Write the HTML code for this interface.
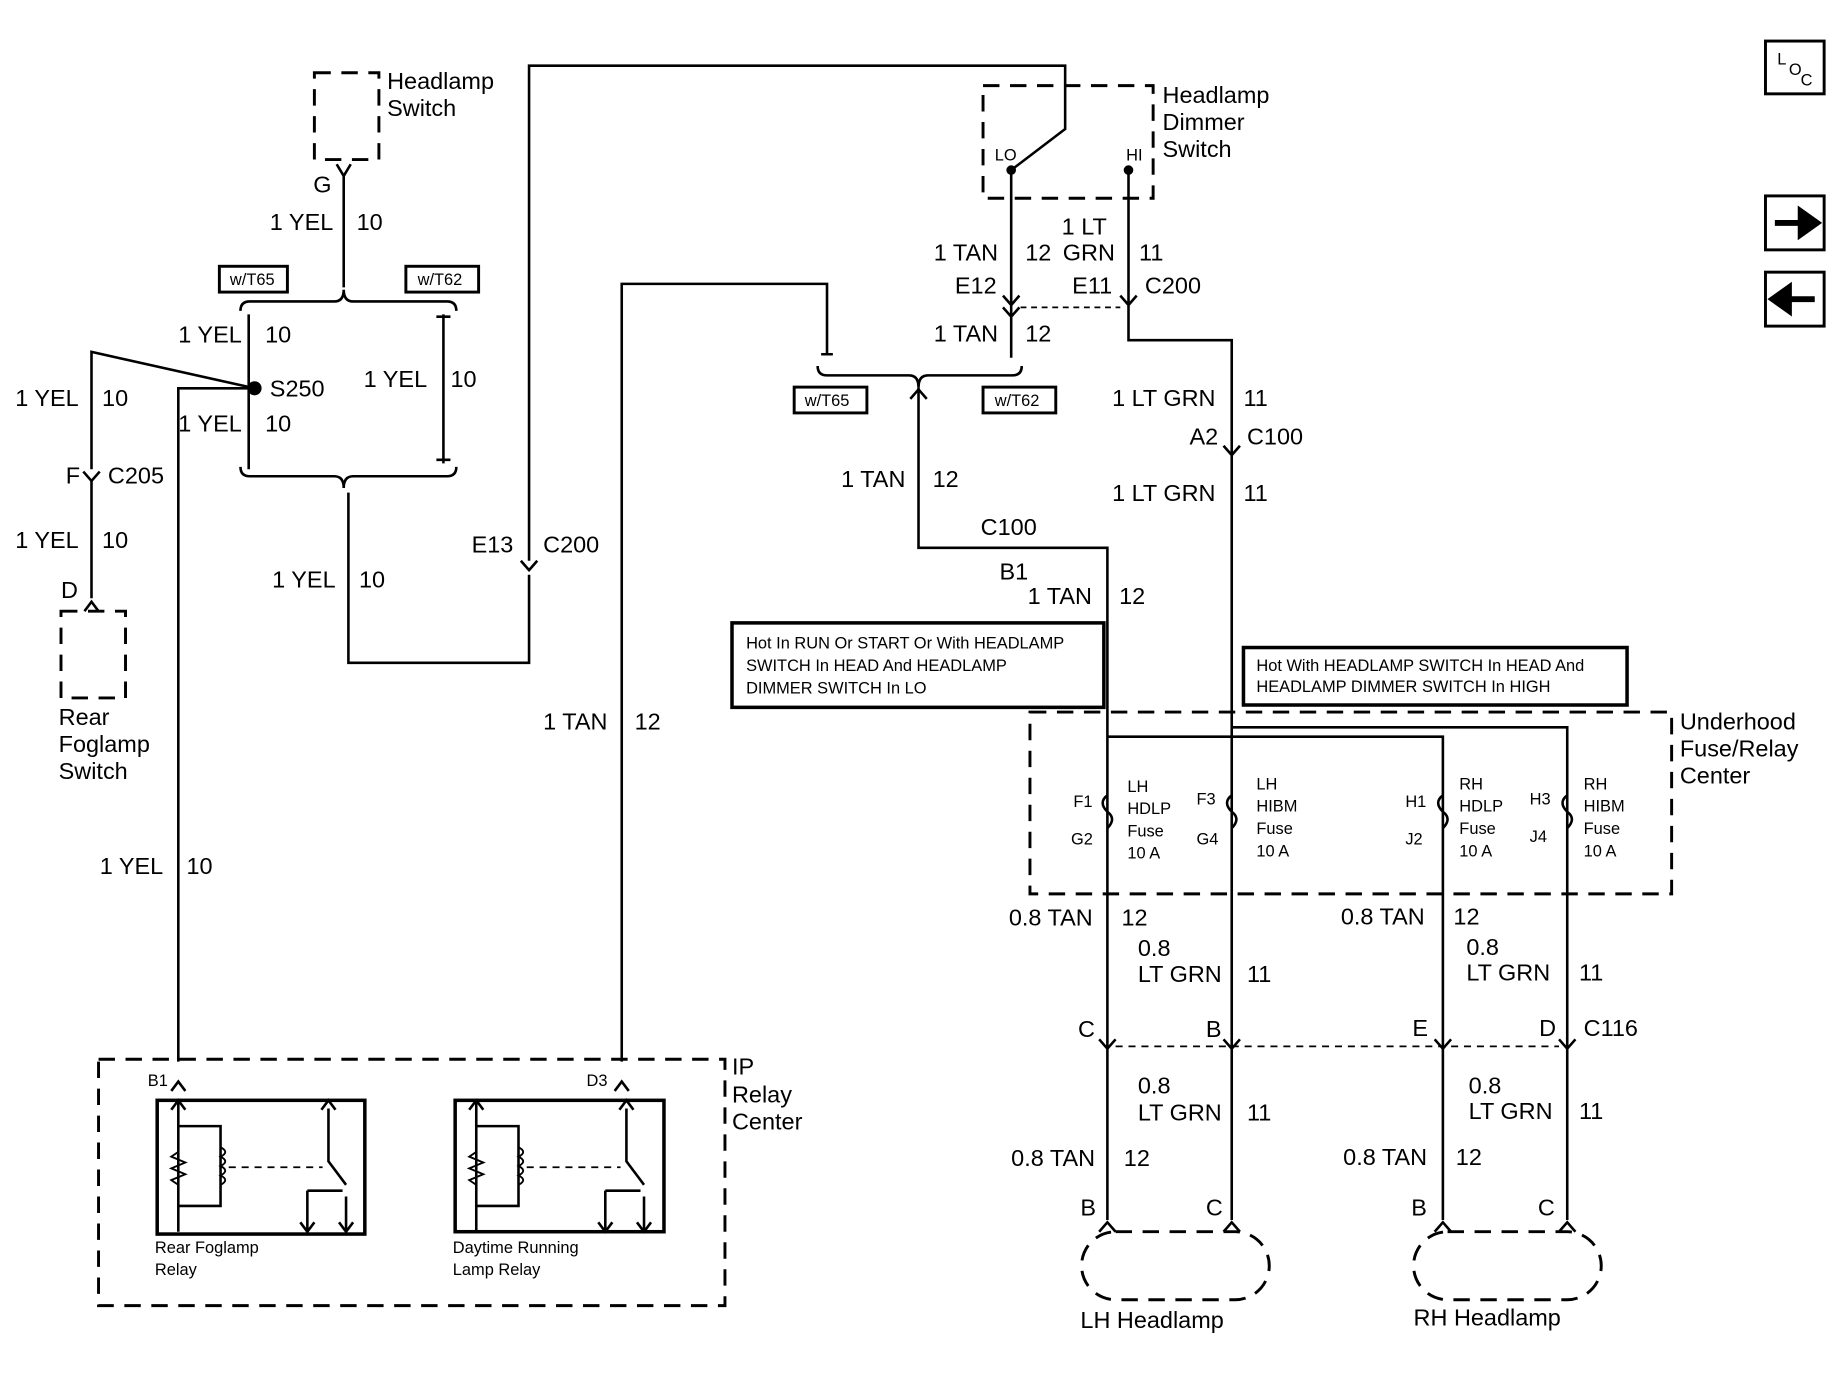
<!DOCTYPE html>
<html><head><meta charset="utf-8"><style>
html,body{margin:0;padding:0;background:#fff;}
svg{display:block;}
text{font-family:"Liberation Sans",sans-serif;fill:#000;}
.t{font-size:20px;}
.s{font-size:14px;}
</style></head><body>
<svg width="1830" height="1376" viewBox="0 0 1560 1173" preserveAspectRatio="none" xmlns="http://www.w3.org/2000/svg">
<g fill="none" stroke="#000" stroke-width="2.2">
<g stroke-dasharray="14,9" stroke-width="2.5">
<rect x="268" y="62" width="55" height="74"/>
<rect x="52" y="521" width="55" height="74"/>
<rect x="838" y="73" width="145" height="96"/>
<rect x="878" y="607" width="547" height="155"/>
<rect x="84" y="903" width="534" height="210"/>
<rect x="922" y="1050" width="160" height="58" rx="29"/>
<rect x="1205" y="1050" width="160" height="58" rx="29"/>
</g>
<path d="M293 150V245"/>
<path d="M287 140l6 10 6-10"/>
<path d="M205 265q0-8 8-8h72q8 0 8-10q0 10 8 10h80q8 0 8 8"/>
<path d="M212 268V400M378 268V395M372 270h12M372 392h12"/>
<path d="M205 398q0 8 8 8h72q8 0 8 10q0-10 8-10h80q8 0 8-8"/>
<path d="M297 420V565H451V490"/>
<path d="M444 478l7 8 7-8"/>
<path d="M451 478V56H908V110L862 145"/>
<path d="M217 331L78 300V400M217 331H152V905"/>
<path d="M71 402l7 8 7-8"/>
<path d="M78 410V510M72 521l6-8 6 8"/>
<path d="M530 905V242H705V302M700 302h10"/>
<path d="M697 312q0 8 8 8h70q8 0 8 10q0-10 8-10h72q8 0 8-8"/>
<path d="M783 330V467H944V1040"/>
<path d="M776 340l7-8 7 8"/>
<circle cx="862" cy="145" r="3" fill="#000"/>
<circle cx="962" cy="145" r="3" fill="#000"/>
<path d="M862 145V305M855 262l7 8 7-8M855 252l7 8 7-8"/>
<path d="M962 145V290H1050V1040M955 252l7 8 7-8M1043 380l7 8 7-8"/>
<path d="M870 262H955" stroke-dasharray="5,4" stroke-width="1.5"/>
<path d="M944 628H1230V1040M1050 620H1336V1040"/>
<path d="M951 892H1329" stroke-dasharray="6,5" stroke-width="1.5"/>
<path d="M937 886l7 8 7-8M1043 886l7 8 7-8M1223 886l7 8 7-8M1329 886l7 8 7-8"/>
<path d="M937 1050l7-8 7 8M1043 1050l7-8 7 8M1223 1050l7-8 7 8M1329 1050l7-8 7 8"/>
<path d="M146 930l6-8 6 8M524 930l6-8 6 8"/>
<rect x="134" y="938" width="177" height="114" stroke-width="3"/>
<rect x="388" y="938" width="178" height="112" stroke-width="3"/>
<!-- relay 1 -->
<path d="M152 938V1050M152 960H188V1028H152M146 946l6-8 6 8"/>
<path d="M152 982l-6 4 12 5-12 5 12 5-12 5 6 4" stroke-width="1.6"/>
<path d="M188 978q8 4 0 8q8 4 0 8q8 4 0 8q8 4 0 8" stroke-width="1.6"/>
<path d="M280 945V990L295 1010M262 1015V1050M295 1020V1050M262 1015h30M274 946l6-8 6 8M256 1042l6 8 6-8M289 1042l6 8 6-8"/>
<!-- relay 2 -->
<path d="M406 938V1050M406 960H442V1028H406M400 946l6-8 6 8"/>
<path d="M406 982l-6 4 12 5-12 5 12 5-12 5 6 4" stroke-width="1.6"/>
<path d="M442 978q8 4 0 8q8 4 0 8q8 4 0 8q8 4 0 8" stroke-width="1.6"/>
<path d="M534 945V990L549 1010M516 1015V1050M549 1020V1050M516 1015h30M528 946l6-8 6 8M510 1042l6 8 6-8M543 1042l6 8 6-8"/>
<path d="M195 995H275M449 995H529" stroke-dasharray="6,5" stroke-width="1.5"/>
<rect x="624" y="531" width="317" height="72" stroke-width="3"/>
<rect x="1060" y="552" width="327" height="49" stroke-width="3"/>
<rect x="187" y="227" width="58" height="22" stroke-width="2.5"/>
<rect x="346" y="227" width="62" height="22" stroke-width="2.5"/>
<rect x="677" y="330" width="62" height="22" stroke-width="2.5"/>
<rect x="838" y="330" width="62" height="22" stroke-width="2.5"/>
<rect x="1505" y="35" width="50" height="45" stroke-width="2.5"/>
<rect x="1505" y="167" width="50" height="46" stroke-width="2.5"/>
<rect x="1505" y="232" width="50" height="46" stroke-width="2.5"/>
<path d="M944 678q-8 6 0 14q8 6 0 14M1050 678q-8 6 0 14q8 6 0 14M1230 678q-8 6 0 14q8 6 0 14M1336 678q-8 6 0 14q8 6 0 14"/>
</g>
<circle cx="217" cy="331" r="6"/>
<path d="M1513 190h22v-10l14 10-14 10v-10" fill="#000" stroke="#000" stroke-width="5"/>
<path d="M1547 255h-22v-10l-14 10 14 10v-10" fill="#000" stroke="#000" stroke-width="5"/>
<text class="s" x="1515" y="55">L</text><text class="s" x="1525" y="64">O</text><text class="s" x="1535" y="73">C</text>
<g class="t">
<text x="330" y="76">Headlamp</text><text x="330" y="99">Switch</text>
<text x="267" y="164">G</text>
<text x="230" y="196">1 YEL</text><text x="304" y="196">10</text>
<text x="152" y="292">1 YEL</text><text x="226" y="292">10</text>
<text x="230" y="338">S250</text>
<text x="310" y="330">1 YEL</text><text x="384" y="330">10</text>
<text x="152" y="368">1 YEL</text><text x="226" y="368">10</text>
<text x="13" y="346">1 YEL</text><text x="87" y="346">10</text>
<text x="56" y="412">F</text><text x="92" y="412">C205</text>
<text x="13" y="467">1 YEL</text><text x="87" y="467">10</text>
<text x="52" y="510">D</text>
<text x="50" y="618">Rear</text><text x="50" y="641">Foglamp</text><text x="50" y="664">Switch</text>
<text x="232" y="501">1 YEL</text><text x="306" y="501">10</text>
<text x="402" y="471">E13</text><text x="463" y="471">C200</text>
<text x="85" y="745">1 YEL</text><text x="159" y="745">10</text>
<text x="463" y="622">1 TAN</text><text x="541" y="622">12</text>
<text x="991" y="88">Headlamp</text><text x="991" y="111">Dimmer</text><text x="991" y="134">Switch</text>
<text x="905" y="200">1 LT</text>
<text x="796" y="222">1 TAN</text><text x="874" y="222">12</text><text x="906" y="222">GRN</text><text x="971" y="222">11</text>
<text x="814" y="250">E12</text><text x="914" y="250">E11</text><text x="976" y="250">C200</text>
<text x="796" y="291">1 TAN</text><text x="874" y="291">12</text>
<text x="948" y="346">1 LT GRN</text><text x="1060" y="346">11</text>
<text x="1014" y="379">A2</text><text x="1063" y="379">C100</text>
<text x="948" y="427">1 LT GRN</text><text x="1060" y="427">11</text>
<text x="717" y="415">1 TAN</text><text x="795" y="415">12</text>
<text x="836" y="456">C100</text><text x="852" y="494">B1</text>
<text x="876" y="515">1 TAN</text><text x="954" y="515">12</text>
<text x="1432" y="622">Underhood</text><text x="1432" y="645">Fuse/Relay</text><text x="1432" y="668">Center</text>
<text x="860" y="789">0.8 TAN</text><text x="956" y="789">12</text>
<text x="1143" y="788">0.8 TAN</text><text x="1239" y="788">12</text>
<text x="970" y="815">0.8</text><text x="970" y="837">LT GRN</text><text x="1063" y="837">11</text>
<text x="1250" y="814">0.8</text><text x="1250" y="836">LT GRN</text><text x="1346" y="836">11</text>
<text x="919" y="884">C</text><text x="1028" y="884">B</text><text x="1204" y="883">E</text><text x="1312" y="883">D</text><text x="1350" y="883">C116</text>
<text x="970" y="932">0.8</text><text x="970" y="955">LT GRN</text><text x="1063" y="955">11</text>
<text x="1252" y="932">0.8</text><text x="1252" y="954">LT GRN</text><text x="1346" y="954">11</text>
<text x="862" y="994">0.8 TAN</text><text x="958" y="994">12</text>
<text x="1145" y="993">0.8 TAN</text><text x="1241" y="993">12</text>
<text x="921" y="1036">B</text><text x="1028" y="1036">C</text><text x="1203" y="1036">B</text><text x="1311" y="1036">C</text>
<text x="921" y="1132">LH Headlamp</text><text x="1205" y="1130">RH Headlamp</text>
<text x="624" y="916">IP</text><text x="624" y="940">Relay</text><text x="624" y="963">Center</text>
</g>
<g class="s">
<text x="196" y="243">w/T65</text><text x="356" y="243">w/T62</text>
<text x="686" y="346">w/T65</text><text x="848" y="346">w/T62</text>
<text x="848" y="137">LO</text><text x="960" y="137">HI</text>
<text x="636" y="553">Hot In RUN Or START Or With HEADLAMP</text>
<text x="636" y="572">SWITCH In HEAD And HEADLAMP</text>
<text x="636" y="591">DIMMER SWITCH In LO</text>
<text x="1071" y="572">Hot With HEADLAMP SWITCH In HEAD And</text>
<text x="1071" y="590">HEADLAMP DIMMER SWITCH In HIGH</text>
<text x="126" y="926">B1</text><text x="500" y="926">D3</text>
<text x="132" y="1068">Rear Foglamp</text><text x="132" y="1087">Relay</text>
<text x="386" y="1068">Daytime Running</text><text x="386" y="1087">Lamp Relay</text>
<text x="915" y="688">F1</text><text x="913" y="720">G2</text>
<text x="1020" y="686">F3</text><text x="1020" y="720">G4</text>
<text x="1198" y="688">H1</text><text x="1198" y="720">J2</text>
<text x="1304" y="686">H3</text><text x="1304" y="718">J4</text>
<text x="961" y="675">LH</text><text x="961" y="694">HDLP</text><text x="961" y="713">Fuse</text><text x="961" y="732">10 A</text>
<text x="1071" y="673">LH</text><text x="1071" y="692">HIBM</text><text x="1071" y="711">Fuse</text><text x="1071" y="730">10 A</text>
<text x="1244" y="673">RH</text><text x="1244" y="692">HDLP</text><text x="1244" y="711">Fuse</text><text x="1244" y="730">10 A</text>
<text x="1350" y="673">RH</text><text x="1350" y="692">HIBM</text><text x="1350" y="711">Fuse</text><text x="1350" y="730">10 A</text>
</g>
</svg>
</body></html>
